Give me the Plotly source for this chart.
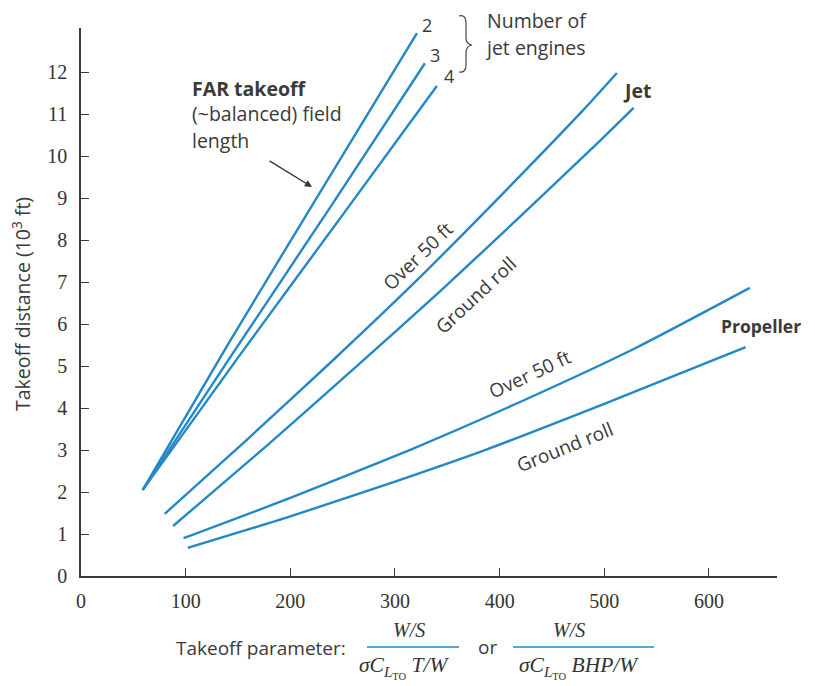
import plotly.graph_objects as go

# ---------------- data ----------------
far2_x = [59, 140, 230, 321]
far2_y = [2.05, 5.50, 9.20, 12.93]
far3_x = [59, 145, 240, 328.6]
far3_y = [2.05, 5.30, 8.85, 12.21]
far4_x = [59, 150, 250, 340]
far4_y = [2.05, 5.20, 8.60, 11.67]

jet_over_x = [80, 160, 240, 320, 400, 480, 512]
jet_over_y = [1.48, 3.28, 5.12, 7.02, 9.03, 11.10, 11.98]
jet_gr_x = [88, 176, 260, 343, 420, 489, 528]
jet_gr_y = [1.19, 3.07, 4.92, 6.78, 8.57, 10.20, 11.15]

prop_over_x = [98, 200, 314, 420, 530, 639]
prop_over_y = [0.90, 1.86, 3.00, 4.15, 5.43, 6.86]
prop_gr_x = [102, 200, 300, 386, 500, 635]
prop_gr_y = [0.67, 1.42, 2.25, 3.00, 4.10, 5.45]

x_ticks = [0, 100, 200, 300, 400, 500, 600]
y_ticks = list(range(0, 13))

# ---------------- layout geometry ----------------
# page has an 8px body margin, so the figure is drawn at (8, 8)
OFF = 8
W, H = 815 - OFF, 686 - OFF
L, R, T, B = 73, 38, 20, 110
PW, PH = W - L - R, H - T - B
BOTTOM_PAGE = OFF + T + PH  # page pixel of y=0


def px(x):  # page pixel -> paper
    return (x - OFF - L) / PW


def py(y):
    return (BOTTOM_PAGE - y) / PH


LINE_COLOR = "#2288C6"
TXT = "#3a3a3a"
SANS = "Open Sans"
SERIF = "Liberation Serif"

fig = go.Figure()
for xs, ys in [(far2_x, far2_y), (far3_x, far3_y), (far4_x, far4_y),
               (jet_over_x, jet_over_y), (jet_gr_x, jet_gr_y),
               (prop_over_x, prop_over_y), (prop_gr_x, prop_gr_y)]:
    fig.add_trace(go.Scatter(x=xs, y=ys, mode="lines",
                             line=dict(color=LINE_COLOR, width=2.4, shape="spline", smoothing=0.6),
                             showlegend=False, hoverinfo="skip"))

ann = []


def text(x, y, s, size=19.5, anchor="left", angle=0, font=SANS, color=TXT):
    ann.append(dict(x=px(x), y=py(y), xref="paper", yref="paper", text=s, showarrow=False,
                    xanchor=anchor, yanchor="middle", textangle=angle,
                    font=dict(family=font, size=size, color=color)))


text(190, 89, "<b>FAR takeoff</b>")
text(190, 114, "(~balanced) field")
text(190, 140, "length")
text(621, 90, "<b>Jet</b>")
text(719, 326, "<b>Propeller</b>", 17.5)
text(485, 20, "Number of")
text(483, 48, "jet engines")
text(427, 25, "2", 18, "center")
text(435, 55, "3", 18, "center")
text(449, 76, "4", 18, "center")
text(418, 256, "Over 50 ft", 19, "center", -44)
text(476, 295, "Ground roll", 19, "center", -43)
text(530, 374, "Over 50 ft", 19, "center", -25)
text(565, 447, "Ground roll", 19, "center", -22)

# y axis title
text(22, 304, "Takeoff distance (10<sup>3</sup> ft)", 19.5, "center", -90)

# x axis title with fractions
text(174, 648, "Takeoff parameter:", 19)
text(409, 630, "<i>W/S</i>", 20, "center", font=SERIF, color="#333")
text(404, 667, "<i>σC</i><sub><i>L</i><sub>TO</sub></sub> <i>T/W</i>", 21.5, "center", font=SERIF, color="#333")
text(487, 647, "or", 19, "center")
text(569, 630, "<i>W/S</i>", 20, "center", font=SERIF, color="#333")
text(579, 667, "<i>σC</i><sub><i>L</i><sub>TO</sub></sub> <i>BHP/W</i>", 21.5, "center", font=SERIF, color="#333")

# arrow to FAR curve
ann.append(dict(x=px(312), y=py(187), xref="paper", yref="paper", text="", showarrow=True,
                ax=-44, ay=-27, arrowhead=2, arrowsize=1.1, arrowwidth=1.3, arrowcolor="#333"))

shapes = []
for x0, x1 in [(367, 459), (513, 654)]:
    shapes.append(dict(type="line", xref="paper", yref="paper", x0=px(x0), x1=px(x1),
                       y0=py(647), y1=py(647), line=dict(color=LINE_COLOR, width=1.6)))

# curly brace
pts = [("M", 459, 16), ("Q", 466, 14, 466, 24), ("L", 466, 38), ("Q", 466, 44, 472, 45),
       ("Q", 466, 46, 466, 53), ("L", 466, 65), ("Q", 466, 73, 459, 72)]
path = ""
for p in pts:
    cmd = p[0]
    coords = p[1:]
    seg = []
    for i in range(0, len(coords), 2):
        seg.append(f"{px(coords[i]):.5f},{py(coords[i+1]):.5f}")
    path += cmd + " " + " ".join(seg) + " "
shapes.append(dict(type="path", xref="paper", yref="paper", path=path.strip(),
                   line=dict(color="#444", width=1.2)))

fig.update_layout(
    width=W, height=H,
    margin=dict(l=L, r=R, t=T, b=B),
    paper_bgcolor="white", plot_bgcolor="white",
    annotations=ann, shapes=shapes,
    xaxis=dict(range=[0, 665], showline=True, linecolor="#3a3a3a", linewidth=1.5,
               ticks="inside", ticklen=8, tickwidth=1.3, tickcolor="#3a3a3a",
               tickvals=x_ticks, ticktext=[str(v) for v in x_ticks],
               tickfont=dict(family=SERIF, size=20, color="#333"),
               ticklabelstandoff=6, showgrid=False, zeroline=False),
    yaxis=dict(range=[0, 13.05], showline=True, linecolor="#3a3a3a", linewidth=1.5,
               ticks="inside", ticklen=8, tickwidth=1.3, tickcolor="#3a3a3a",
               tickvals=y_ticks + [13.03], ticktext=[str(v) for v in y_ticks] + [""],
               tickfont=dict(family=SERIF, size=20, color="#333"),
               ticklabelstandoff=8, showgrid=False, zeroline=False),
)

fig.write_html("out.html")
